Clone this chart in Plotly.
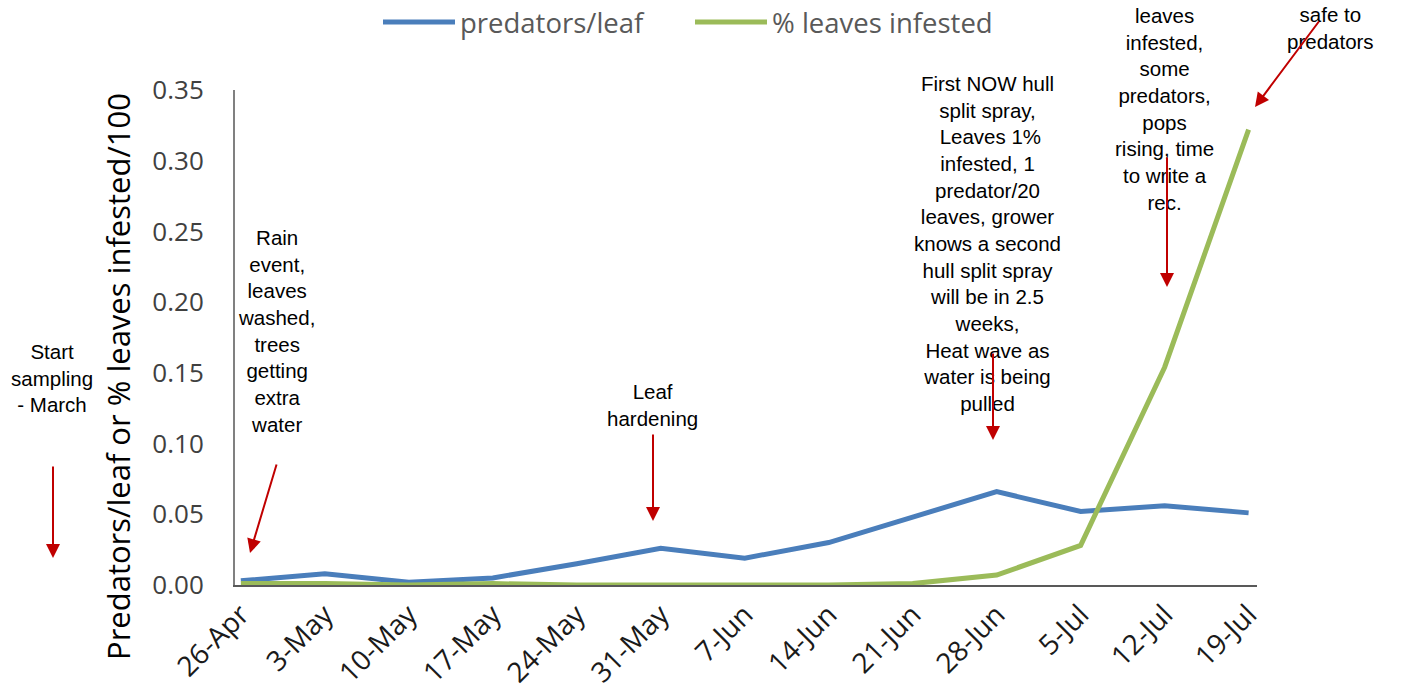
import plotly.graph_objects as go

# ---- data ----
dates = ["26-Apr", "3-May", "10-May", "17-May", "24-May", "31-May", "7-Jun",
         "14-Jun", "21-Jun", "28-Jun", "5-Jul", "12-Jul", "19-Jul"]
predators_per_leaf = [0.003, 0.008, 0.002, 0.005, 0.015, 0.026, 0.019,
                      0.030, 0.048, 0.066, 0.052, 0.056, 0.051]
pct_leaves_infested = [0.001, 0.001, 0.000, 0.001, 0.000, 0.000, 0.000,
                       0.000, 0.001, 0.007, 0.028, 0.154, 0.322]
y_ticks = [0.00, 0.05, 0.10, 0.15, 0.20, 0.25, 0.30, 0.35]

notes = [
    "Start<br>sampling<br>- March",
    "Rain<br>event,<br>leaves<br>washed,<br>trees<br>getting<br>extra<br>water",
    "Leaf<br>hardening",
    "First NOW hull<br>split spray,<br> Leaves 1%<br>infested, 1<br>predator/20<br>leaves, grower<br>knows a second<br>hull split spray<br>will be in 2.5<br>weeks,<br>Heat wave as<br>water is being<br>pulled",
    "leaves<br>infested,<br>some<br>predators,<br>pops<br>rising, time<br>to write a<br>rec.",
    "safe to<br>predators",
]

# ---- layout geometry (pixels) ----
W, H = 1402, 699
L, R, T, B = 235, 145, 90, 114
PW, PH = W - L - R, H - T - B

def px(x):
    return (x - L) / PW

def py(y):
    return (H - B - y) / PH

xs = list(range(len(dates)))

fig = go.Figure()
fig.add_trace(go.Scatter(x=xs, y=predators_per_leaf, mode="lines", name="predators/leaf",
                         line=dict(color="#4A7EBB", width=5)))
fig.add_trace(go.Scatter(x=xs, y=pct_leaves_infested, mode="lines", name="% leaves infested",
                         line=dict(color="#9BBB59", width=5)))

note_pos = [(52, 378), (276, 331), (652, 405), (987, 243), (1164, 109), (1330, 28)]
arrows = [((53, 558), (53, 465)), ((250, 553), (277, 463)), ((653, 521), (653, 433)),
          ((993, 440), (993, 352)), ((1167, 287), (1167, 156)), ((1255, 107), (1320, 20))]

annotations = []
for txt, (cx, cy) in zip(notes, note_pos):
    annotations.append(dict(text=txt, x=px(cx), y=py(cy), xref="paper", yref="paper",
                            showarrow=False, xanchor="center", yanchor="middle", align="center",
                            font=dict(family="Liberation Sans, Arial", size=20.5, color="#000000")))
for (hx, hy), (tx, ty) in arrows:
    annotations.append(dict(text="", x=px(hx), y=py(hy), xref="paper", yref="paper",
                            showarrow=True, ax=tx - hx, ay=ty - hy, axref="pixel", ayref="pixel",
                            arrowhead=2, arrowsize=1.4, arrowwidth=2, arrowcolor="#C00000",
                            standoff=0, startstandoff=0))
annotations.append(dict(text="Predators/leaf or % leaves infested/100", textangle=-90,
                        x=px(118), y=py(377), xref="paper", yref="paper", showarrow=False,
                        xanchor="center", yanchor="middle",
                        font=dict(family="Open Sans", size=31, color="#000000")))

fig.update_layout(
    width=W, height=H,
    margin=dict(l=L, r=R, t=T, b=B, autoexpand=False),
    paper_bgcolor="white", plot_bgcolor="white",
    showlegend=True,
    legend=dict(orientation="h", x=px(378), y=py(22), xanchor="left", yanchor="middle",
                font=dict(family="Open Sans", size=27.5, color="#595959"),
                itemwidth=72, entrywidth=225, entrywidthmode="pixels",
                bgcolor="rgba(0,0,0,0)"),
    annotations=annotations,
)
fig.update_xaxes(range=[-0.07, 12.1], tickmode="array", tickvals=xs, ticktext=dates,
                 tickangle=-45, showgrid=False, zeroline=False, showline=True,
                 linecolor="#595959", linewidth=2, ticks="", automargin=False,
                 tickfont=dict(family="Open Sans", size=28, color="#1a1a1a"))
fig.update_yaxes(range=[0, 0.35], tickmode="array", tickvals=y_ticks,
                 ticktext=[f"{v:.2f}" for v in y_ticks], showgrid=False, zeroline=False,
                 showline=True, linecolor="#808080", linewidth=2, ticks="", automargin=False,
                 ticklabelstandoff=24,
                 tickfont=dict(family="Open Sans", size=26, color="#404040"))

fig.write_html("out.html", config={"displayModeBar": False},
               post_script="document.body.style.margin='0px';")
